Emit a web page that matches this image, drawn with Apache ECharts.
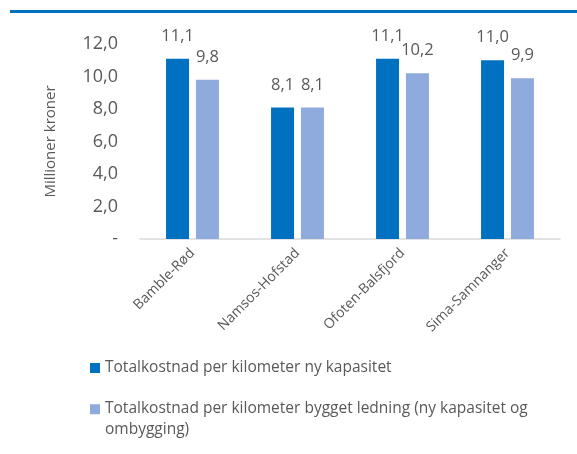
<!DOCTYPE html>
<html>
<head>
<meta charset="utf-8">
<script src="https://cdn.jsdelivr.net/npm/echarts@6/dist/echarts.min.js"></script>
<style>
  html, body { margin: 0; padding: 0; background: #fff; }
  #chart { width: 577px; height: 454px; }
</style>
</head>
<body>
<div id="chart"></div>
<script>
// Kostnad per kilometer for fire ledningsprosjekter (millioner kroner)
const categories = ['Bamble-Rød', 'Namsos-Hofstad', 'Ofoten-Balsfjord', 'Sima-Samnanger'];
const nyKapasitet = [11.1, 8.1, 11.1, 11.0];
const byggetLedning = [9.8, 8.1, 10.2, 9.9];
const seriesNames = [
  'Totalkostnad per kilometer ny kapasitet',
  'Totalkostnad per kilometer bygget ledning (ny kapasitet og ombygging)'
];
const yTicks = { min: 0, max: 12, interval: 2 };

const FONT = 'Open Sans';
const GREY = '#595959';
const fmt = v => v === 0 ? '-' : v.toFixed(1).replace('.', ',');

// Legend markers live in a 10x30 box: a centred square for the one-line entry,
// a square at the top for the wrapped entry so it lines up with its first line.
const DOT = 'h0.01v0.01h-0.01z';
const ICON_MID = 'path://M0,0' + DOT + 'M0,10h10v10h-10zM0,30' + DOT;
const ICON_TOP = 'path://M0,0.5h10v10h-10zM0,30' + DOT;

const chart = echarts.init(document.getElementById('chart'));
chart.setOption({
  animation: false,
  textStyle: { fontFamily: FONT, color: GREY },
  graphic: [
    { type: 'rect', shape: { x: 10, y: 10, width: 567, height: 3 }, style: { fill: '#0070C0' } }
  ],
  grid: { left: 140, right: 17, top: 44, bottom: 215 },
  legend: {
    orient: 'vertical',
    left: 90,
    top: 353,
    padding: 0,
    itemWidth: 10,
    itemHeight: 30,
    itemGap: 15,
    textStyle: { fontFamily: FONT, fontSize: 15.5, color: GREY, lineHeight: 21 },
    data: [
      { name: seriesNames[0], icon: ICON_MID },
      { name: seriesNames[1], icon: ICON_TOP }
    ],
    formatter: name => name.replace(' (ny kapasitet og ombygging)', ' (ny kapasitet og\nombygging)')
  },
  xAxis: {
    type: 'category',
    data: categories,
    axisLine: { lineStyle: { color: '#D9D9D9', width: 1.5 } },
    axisTick: { show: false },
    axisLabel: { rotate: 45, fontSize: 14, color: GREY, margin: 12, fontFamily: FONT }
  },
  yAxis: {
    type: 'value',
    min: yTicks.min, max: yTicks.max, interval: yTicks.interval,
    name: 'Millioner kroner',
    nameLocation: 'middle',
    nameGap: 82,
    nameRotate: 90,
    nameTextStyle: { fontSize: 15, color: GREY, fontFamily: FONT },
    splitLine: { show: false },
    axisLine: { show: false },
    axisTick: { show: false },
    axisLabel: { fontSize: 18, color: GREY, margin: 22, formatter: fmt, fontFamily: FONT }
  },
  series: [
    {
      name: seriesNames[0], type: 'bar', data: nyKapasitet,
      barWidth: 23, barGap: '30%',
      itemStyle: { color: '#0070C0' },
      label: { show: true, position: 'top', distance: 14, fontSize: 16.5, color: GREY, formatter: p => fmt(p.value), fontFamily: FONT }
    },
    {
      name: seriesNames[1], type: 'bar', data: byggetLedning,
      barWidth: 23,
      itemStyle: { color: '#8FAADC' },
      label: { show: true, position: 'top', distance: 14, fontSize: 16.5, color: GREY, formatter: p => fmt(p.value), fontFamily: FONT }
    }
  ]
});
</script>
</body>
</html>
